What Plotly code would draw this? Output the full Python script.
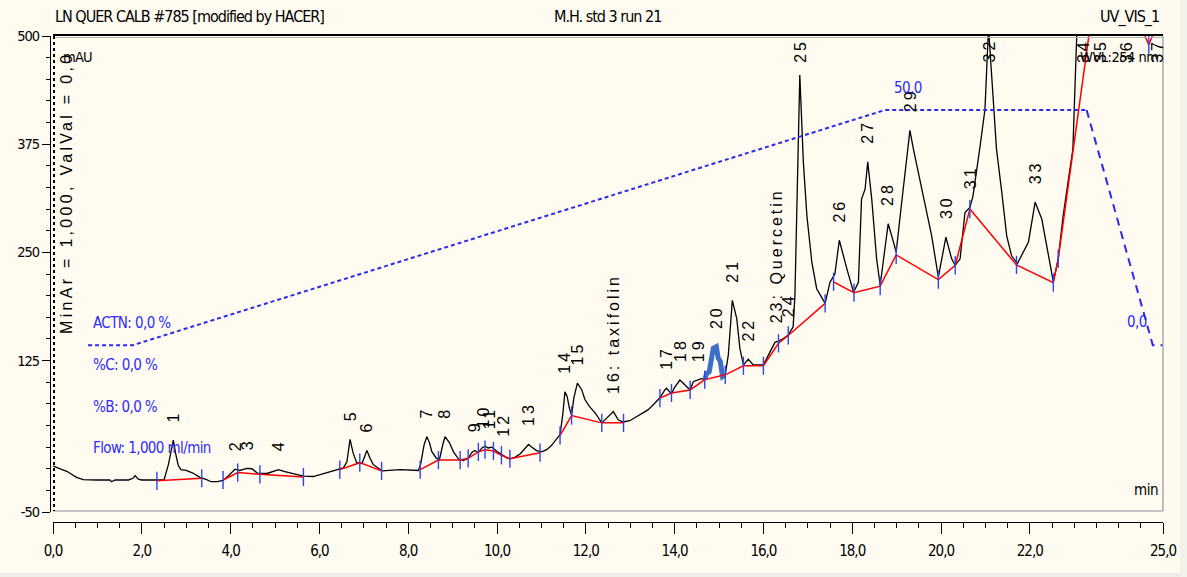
import numpy as np
import plotly.graph_objects as go

# ---------------- chromatogram signal, UV_VIS_1 (mAU vs min) ----------------
time_min = [
    0.00, 0.15, 0.31, 0.53, 0.68, 1.00, 1.28, 1.32, 1.40, 1.70, 1.80, 1.85, 1.92, 2.00,
    2.34, 2.50, 2.60, 2.66, 2.71, 2.76, 2.82, 2.88, 3.00, 3.15, 3.31, 3.46, 3.56, 3.70,
    3.83, 3.95, 4.04, 4.10, 4.20, 4.28, 4.37, 4.48, 4.60, 4.82, 4.95, 5.08, 5.20, 5.42,
    5.64, 5.86, 6.16, 6.38, 6.54, 6.62, 6.69, 6.76, 6.84, 6.96, 7.07, 7.14, 7.21, 7.41,
    7.66, 7.82, 8.23, 8.28, 8.36, 8.42, 8.48, 8.53, 8.63, 8.70, 8.78, 8.83, 8.93, 9.02,
    9.13, 9.24, 9.35, 9.43, 9.50, 9.58, 9.66, 9.73, 9.80, 9.88, 9.99, 10.10, 10.22, 10.29,
    10.41, 10.52, 10.63, 10.71, 10.78, 10.89, 11.00, 11.12, 11.23, 11.34, 11.42, 11.48,
    11.53, 11.58, 11.63, 11.68, 11.73, 11.81, 11.91, 11.98, 12.08, 12.21, 12.32, 12.36,
    12.47, 12.62, 12.73, 12.84, 12.99, 13.22, 13.40, 13.52, 13.67, 13.78, 13.82, 13.93,
    14.00, 14.12, 14.23, 14.35, 14.42, 14.53, 14.60, 14.68, 14.72, 14.78, 14.83, 14.87,
    14.94, 14.98, 15.03, 15.08, 15.14, 15.21, 15.30, 15.40, 15.47, 15.55, 15.66, 15.77,
    16.00, 16.15, 16.26, 16.34, 16.45, 16.56, 16.67, 16.71, 16.75, 16.79, 16.82, 16.90,
    16.98, 17.09, 17.20, 17.39, 17.50, 17.61, 17.71, 17.88, 18.03, 18.14, 18.21, 18.29,
    18.35, 18.44, 18.55, 18.63, 18.74, 18.81, 18.91, 18.99, 19.08, 19.19, 19.30, 19.38,
    19.60, 19.79, 19.94, 20.11, 20.24, 20.32, 20.43, 20.54, 20.65, 20.72, 20.87, 20.99,
    21.07, 21.18, 21.25, 21.37, 21.48, 21.59, 21.72, 21.97, 22.12, 22.27, 22.38, 22.53,
    22.64, 22.75, 22.86, 22.97, 23.06, 23.12, 23.20, 23.40, 23.58, 23.90, 24.17, 24.50,
    24.66, 24.86, 25.00,
]
signal_mau = [
    3.0, 0.0, -3.0, -10.0, -12.5, -13.0, -13.0, -15.0, -13.0, -13.0, -11.0, -8.0, -12.0, -13.0,
    -13.0, -13.0, 5.0, 22.0, 33.0, 18.0, 4.0, -1.0, -2.0, -5.0, -10.0, -12.5, -15.0, -15.0,
    -13.5, -8.0, -3.0, -0.5, -2.0, -0.5, 0.5, 0.0, -5.0, -5.5, -3.0, -1.0, -3.0, -5.5,
    -8.5, -9.0, -4.5, -1.0, 1.0, 8.0, 34.0, 18.0, 7.0, 6.0, 21.0, 12.0, 5.0, -2.5,
    -2.0, -1.0, -2.0, 5.0, 28.0, 37.0, 30.0, 20.0, 12.5, 10.0, 28.0, 37.0, 30.0, 19.5,
    11.5, 9.5, 12.0, 18.5, 21.0, 18.5, 24.0, 26.0, 24.0, 25.0, 20.5, 16.5, 12.5, 11.5,
    13.5, 17.0, 24.0, 28.0, 25.0, 21.0, 19.5, 22.0, 27.0, 33.5, 39.5, 62.0,
    89.0, 83.5, 70.0, 62.0, 81.5, 99.0, 91.0, 80.0, 72.0, 64.5, 55.0, 53.0,
    58.5, 66.0, 56.5, 54.0, 55.5, 62.0, 68.0, 74.0, 82.0, 91.0, 93.0, 86.5,
    94.0, 102.5, 97.0, 91.0, 100.5, 102.5, 104.0, 103.0, 110.0, 112.0, 124.0, 139.0,
    141.0, 128.0, 124.0, 106.5, 108.5, 131.5, 194.5, 173.5, 139.0, 120.0, 126.5, 120.0,
    120.0, 135.0, 146.0, 147.5, 150.5, 154.5, 164.0, 200.0, 308.0, 392.0, 455.0, 354.0,
    292.0, 239.0, 208.0, 191.0, 215.5, 225.0, 264.0, 231.0, 204.0, 215.5, 311.5, 323.0,
    354.5, 311.5, 242.5, 212.0, 258.0, 283.0, 265.5, 250.0, 292.0, 338.0, 391.0, 369.0,
    315.0, 269.0, 221.5, 267.5, 242.5, 235.0, 242.5, 296.0, 302.0, 315.0, 369.0, 415.0,
    510.0, 415.0, 369.0, 319.0, 269.0, 246.0, 237.0, 262.0, 308.0, 288.5, 258.0, 216.0,
    242.5, 292.0, 331.0, 369.0, 505.0, 590.0, 650.0, 600.0, 700.0, 620.0, 640.0, 580.0,
    503.0, 620.0, 600.0,
]

# ---------------- integration baselines (None = new baseline group) ----------------
base_time = [
    2.34, 3.35, None,
    3.83, 4.16, 4.66, 5.64, None,
    6.46, 6.91, 7.40, None,
    8.27, 8.68, 9.17, 9.35, 9.58, 9.73, 9.92, 10.10, 10.29, 10.97, None,
    11.42, 11.68, 12.36, 12.85, None,
    13.67, 13.93, 14.35, 14.68, 15.14, 15.55, 16.00, 16.34, 16.56, 17.39, None,
    17.58, 18.04, 18.63, 18.99, 19.94, 20.32, 20.65, 21.70, 22.53, 22.64, 23.45,
    24.55, 24.68, 24.80,
]
base_mau = [
    -14.0, -11.0, None,
    -13.0, -4.5, -6.5, -9.5, None,
    -1.0, 7.0, -2.5, None,
    -1.0, 10.0, 10.0, 12.0, 19.5, 22.0, 20.5, 15.5, 11.5, 18.5, None,
    38.5, 61.5, 53.0, 53.0, None,
    81.5, 87.5, 91.0, 103.0, 108.5, 119.0, 119.0, 145.0, 154.0, 191.0, None,
    216.0, 203.5, 211.0, 247.0, 218.5, 235.0, 300.0, 235.5, 215.0, 242.5, 545.0,
    505.0, 490.0, 505.0,
]

# ---------------- peak table ----------------
peak_names = [
    "1", "2", "3", "4", "5", "6", "7", "8", "9", "10", "11", "12", "13", "14", "15",
    "16: taxifolin", "17", "18", "19", "20", "21", "22", "23: Quercetin", "24", "25",
    "26", "27", "28", "29", "30", "31", "32", "33", "34", "35", "36", "37",
]
peak_rt = [
    2.71, 4.10, 4.37, 5.08, 6.69, 7.07, 8.42, 8.83, 9.50, 9.69, 9.84, 10.14, 10.71, 11.53,
    11.81, 12.62, 13.82, 14.12, 14.53, 14.94, 15.30, 15.66, 16.30, 16.56, 16.82, 17.71,
    18.35, 18.81, 19.30, 20.11, 20.65, 21.07, 22.12, 23.20, 23.58, 24.17, 24.86,
]
selected_peak = (14.68, 15.14)   # retention window of the highlighted peak 20

# ---------------- gradient program (%B) ----------------
grad_time = [0.79, 1.80, 18.74, 23.28, 24.77, 25.00]
grad_pct = [0.0, 0.0, 50.0, 50.0, 0.0, 0.0]

x_ticks = [0, 2, 4, 6, 8, 10, 12, 14, 16, 18, 20, 22, 25]
y_ticks = [500, 375, 250, 125, -50]

# ---------------- styling ----------------
CREAM = "#fffbf0"
BLUE_TXT = "#2b2bff"
NARROW = "DejaVu Sans Condensed, Liberation Sans, sans-serif"
LABEL_FONT = "Liberation Sans, Arial, sans-serif"

W, H = 1187, 577
ML, MR, MT, MB = 50, 24, 36, 55
PW, PH = W - ML - MR, H - MT - MB


def px(xp):
    return (xp - ML) / PW


def py(yp):
    return (H - MB - yp) / PH


def spaced(text, ls):
    return f'<span style="letter-spacing:{ls}px">{text}</span>'


t_arr = np.array(time_min)
s_arr = np.array(signal_mau)

fig = go.Figure()

# gradient overlay (secondary axis in %)
fig.add_trace(go.Scatter(
    x=grad_time[:4], y=grad_pct[:4], yaxis="y2", mode="lines",
    line=dict(color="#2a2aee", width=2, dash="4px,3px"), hoverinfo="skip"))
fig.add_trace(go.Scatter(
    x=grad_time[3:], y=grad_pct[3:], yaxis="y2", mode="lines",
    line=dict(color="#2a2aee", width=2, dash="8px,6px"), hoverinfo="skip"))

# chromatogram
fig.add_trace(go.Scatter(
    x=time_min, y=signal_mau, mode="lines",
    line=dict(color="black", width=1.3), hoverinfo="skip"))

# highlighted peak
sel = (t_arr >= selected_peak[0]) & (t_arr <= selected_peak[1])
fig.add_trace(go.Scatter(
    x=t_arr[sel], y=s_arr[sel], mode="lines",
    line=dict(color="#3d6ec9", width=5), hoverinfo="skip"))

# integration baselines
fig.add_trace(go.Scatter(
    x=base_time, y=base_mau, mode="lines", connectgaps=False,
    line=dict(color="#ff0000", width=1.5), hoverinfo="skip"))

# peak delimiter ticks at baseline vertices
tick_t = [t for t, v in zip(base_time, base_mau) if t is not None and v <= 500]
tick_v = [v for t, v in zip(base_time, base_mau) if t is not None and v <= 500]
fig.add_trace(go.Scatter(
    x=tick_t, y=tick_v, mode="markers",
    marker=dict(symbol="line-ns-open", size=13, color="#2b45e8",
                line=dict(color="#2b45e8", width=1.4)),
    hoverinfo="skip"))

annotations = []

# peak labels, placed above each apex
for name, rt in zip(peak_names, peak_rt):
    win = (t_arr >= rt - 0.06) & (t_arr <= rt + 0.06)
    apex = float(s_arr[win].max()) if win.any() else float(np.interp(rt, t_arr, s_arr))
    txt = spaced(name, 3)
    if apex > 440:
        annotations.append(dict(x=rt, y=500, xref="x", yref="y", text=txt, textangle=-90,
                                showarrow=False, xanchor="center", yanchor="top", yshift=-1,
                                font=dict(family=LABEL_FONT, size=16, color="black")))
    else:
        annotations.append(dict(x=rt, y=apex, xref="x", yref="y", text=txt, textangle=-90,
                                showarrow=False, xanchor="center", yanchor="bottom", yshift=16,
                                font=dict(family=LABEL_FONT, size=16, color="black")))

# header texts
hdr = dict(family=NARROW, size=16, color="black")
small = dict(family=NARROW, size=14.5, color="black")
annotations += [
    dict(x=px(53), y=py(17), xref="paper", yref="paper",
         text=spaced("LN QUER CALB #785 [modified by HACER]", -1),
         showarrow=False, xanchor="left", yanchor="middle", font=hdr),
    dict(x=px(607), y=py(17), xref="paper", yref="paper", text=spaced("M.H. std 3 run 21", -1),
         showarrow=False, xanchor="center", yanchor="middle", font=hdr),
    dict(x=px(1161), y=py(17), xref="paper", yref="paper", text=spaced("UV_VIS_1", -1),
         showarrow=False, xanchor="right", yanchor="middle", font=hdr),
    dict(x=px(61), y=py(57), xref="paper", yref="paper", text=spaced("mAU", -0.8),
         showarrow=False, xanchor="left", yanchor="middle", font=small),
    dict(x=px(1161), y=py(57), xref="paper", yref="paper", text=spaced("WVL:254 nm", -0.5),
         showarrow=False, xanchor="right", yanchor="middle", font=small),
    dict(x=px(1160), y=py(490), xref="paper", yref="paper", text=spaced("min", -0.5),
         showarrow=False, xanchor="right", yanchor="middle", font=dict(family=NARROW, size=15, color="black")),
    dict(x=px(66), y=py(336), xref="paper", yref="paper",
         text=spaced("MinAr = 1,000, ValVal = 0,0", 3.3),
         textangle=-90, showarrow=False, xanchor="center", yanchor="bottom",
         font=dict(family=LABEL_FONT, size=16, color="black")),
]

# gradient annotations
bfont = dict(family=NARROW, size=15, color=BLUE_TXT)
for text, dy in [("ACTN: 0,0 %", 22), ("%C: 0,0 %", -20), ("%B: 0,0 %", -62), ("Flow: 1,000 ml/min", -103)]:
    annotations.append(dict(x=grad_time[0], y=grad_pct[0], xref="x", yref="y2", text=spaced(text, -0.6),
                            showarrow=False, xanchor="left", yanchor="middle", xshift=3, yshift=dy,
                            font=bfont))
annotations.append(dict(x=grad_time[2], y=grad_pct[2], xref="x", yref="y2",
                        text=spaced(f"{grad_pct[2]:.1f}".replace(".", ","), -0.6),
                        showarrow=False, xanchor="left", yanchor="middle", xshift=7, yshift=22, font=bfont))
annotations.append(dict(x=grad_time[4], y=grad_pct[4], xref="x", yref="y2",
                        text=spaced(f"{grad_pct[4]:.1f}".replace(".", ","), -0.6),
                        showarrow=False, xanchor="right", yanchor="middle", xshift=-4, yshift=23, font=bfont))

# frame decorations
shapes = [
    dict(type="line", xref="paper", yref="paper", x0=px(53), x1=1, y0=py(35), y1=py(35),
         line=dict(color="black", width=2)),
    dict(type="line", xref="paper", yref="paper", x0=px(53), x1=1, y0=py(37.5), y1=py(37.5),
         line=dict(color="#b8b8b0", width=1)),
    dict(type="line", xref="paper", yref="paper", x0=1, x1=1, y0=py(36), y1=py(511),
         line=dict(color="#a8a8a8", width=1.5)),
    dict(type="line", xref="paper", yref="paper", x0=px(53), x1=1, y0=py(511), y1=py(511),
         line=dict(color="#b0b0b0", width=1.5)),
    dict(type="line", xref="paper", yref="paper", x0=px(54), x1=px(54), y0=py(36), y1=py(511),
         line=dict(color="black", width=2, dash="dot")),
    dict(type="rect", xref="paper", yref="paper", x0=px(0), x1=px(W), y0=py(573), y1=py(H),
         line=dict(width=0), fillcolor="#efeee6", layer="below"),
    dict(type="rect", xref="paper", yref="paper", x0=px(1180), x1=px(W), y0=py(0), y1=py(H),
         line=dict(width=0), fillcolor="#f3f2ea", layer="below"),
]

fig.update_layout(
    width=W, height=H,
    margin=dict(l=ML, r=MR, t=MT, b=MB),
    paper_bgcolor=CREAM, plot_bgcolor=CREAM,
    showlegend=False,
    xaxis=dict(
        domain=[3 / PW, 1], range=[0, 25], anchor="free", position=0,
        showline=True, linecolor="black", linewidth=1,
        ticks="outside", ticklen=11, tickcolor="black", tickwidth=1,
        tickvals=x_ticks, ticktext=[spaced(f"{v:.1f}".replace(".", ","), -1) for v in x_ticks],
        minor=dict(ticks="outside", ticklen=5, tickcolor="black", dtick=0.5, tick0=0),
        ticklabelstandoff=4,
        showgrid=False, zeroline=False,
        tickfont=dict(family=NARROW, size=15, color="black"),
    ),
    yaxis=dict(
        domain=[10 / PH, 1], range=[-50, 500], anchor="free", position=0,
        showline=True, linecolor="black", linewidth=1,
        ticks="outside", ticklen=8, tickcolor="black", tickwidth=1,
        tickvals=y_ticks, ticktext=[spaced(str(v), -1) for v in y_ticks],
        minor=dict(ticks="outside", ticklen=4, tickcolor="black", dtick=25, tick0=0),
        showgrid=False, zeroline=False,
        tickfont=dict(family=NARROW, size=14.5, color="black"),
    ),
    yaxis2=dict(overlaying="y", range=[-35.48, 65.73], visible=False),
    annotations=annotations,
    shapes=shapes,
)

fig.write_html("out.html")
